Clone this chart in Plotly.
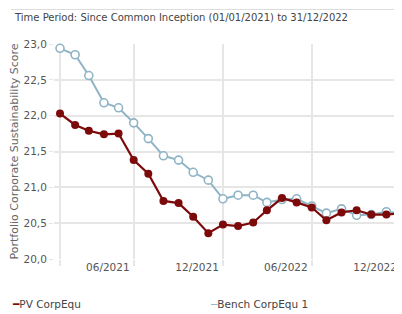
import plotly.graph_objects as go
import pandas as pd

# ---- data ----
dates = pd.date_range("2021-01-01", "2022-12-01", freq="MS")
pv_corpequ = [22.03, 21.87, 21.79, 21.74, 21.75, 21.38, 21.19, 20.81, 20.78, 20.59, 20.36, 20.48,
              20.46, 20.51, 20.68, 20.85, 20.79, 20.72, 20.54, 20.65, 20.68, 20.62, 20.62, 20.64]
bench_corpequ = [22.94, 22.85, 22.56, 22.18, 22.11, 21.90, 21.68, 21.44, 21.38, 21.21, 21.10, 20.84,
                 20.89, 20.89, 20.79, 20.83, 20.84, 20.74, 20.64, 20.70, 20.61, 20.62, 20.66, 20.64]
series_names = ["PV CorpEqu", "Bench CorpEqu 1"]
grid_dates = ["2021-01-01", "2021-06-01", "2021-12-01", "2022-06-01"]
label_dates = ["2021-06-01", "2021-12-01", "2022-06-01", "2022-12-01"]
tick_labels = ["06/2021", "12/2021", "06/2022", "12/2022"]
y_ticks = [20.0, 20.5, 21.0, 21.5, 22.0, 22.5, 23.0]

RED = "#7d0a0a"
BLUE = "#8fb4c6"
GRID = "#e6e6e6"
FONT = "DejaVu Sans"

# the page body has an 8px margin, so the figure is drawn 8px smaller
OFF = 8
FW, FH = 402 - OFF, 314 - OFF
L, T, W, H = 54 - OFF, 44 - OFF, 348, 215  # plot area in figure pixels


def px(x):  # page x pixel -> paper coord
    return (x - OFF - L) / W


def py(y):  # page y pixel -> paper coord
    return (T + H - (y - OFF)) / H


# label centres sit to the left of their gridline
label_pos = [pd.Timestamp(d) - pd.Timedelta(days=53) for d in label_dates]

fig = go.Figure()
fig.add_trace(go.Scatter(x=dates, y=bench_corpequ, name=series_names[1], mode="lines+markers",
                         line=dict(color=BLUE, width=2),
                         marker=dict(symbol="circle", size=8, color="white",
                                     line=dict(color=BLUE, width=1.6)),
                         cliponaxis=False))
fig.add_trace(go.Scatter(x=dates, y=pv_corpequ, name=series_names[0], mode="lines+markers",
                         line=dict(color=RED, width=2.2),
                         marker=dict(symbol="circle", size=8, color=RED),
                         cliponaxis=False))

fig.update_layout(
    width=FW, height=FH,
    margin=dict(l=L, r=FW - L - W, t=T, b=FH - T - H),
    paper_bgcolor="white", plot_bgcolor="white",
    showlegend=False,
    separators=",.",
    font=dict(family=FONT, size=10, color="#555555"),
    xaxis=dict(
        type="date", automargin=False,
        range=["2020-12-19 16:00", "2022-12-03"],
        tickmode="array", tickvals=label_pos, ticktext=tick_labels,
        showgrid=False, ticks="", zeroline=False, showline=False,
        tickfont=dict(size=10.5, color="#555555"),
        minor=dict(tickmode="array", tickvals=grid_dates, showgrid=True,
                   gridcolor=GRID, gridwidth=1.5, ticks="outside", ticklen=6,
                   tickcolor=GRID, tickwidth=1.5),
    ),
    yaxis=dict(
        automargin=False,
        range=[20, 23], tickmode="array", tickvals=y_ticks, tickformat=".1f",
        showgrid=True, gridcolor=GRID, gridwidth=1.5, zeroline=False, showline=False,
        ticks="outside", ticklen=4, tickcolor=GRID,
        tickfont=dict(size=10.5, color="#555555"),
        title=dict(text="Portfolio Corporate Sustainability Score",
                   font=dict(size=11, color="#666666"), standoff=2),
    ),
)

# header text
fig.add_annotation(text="Time Period: Since Common Inception (01/01/2021) to 31/12/2022",
                   xref="paper", yref="paper", x=px(12), y=py(18),
                   xanchor="left", yanchor="middle", showarrow=False,
                   font=dict(size=10, color="#444444"))
fig.add_shape(type="line", xref="paper", yref="paper",
              x0=px(11), x1=px(394), y0=py(9.5), y1=py(9.5),
              line=dict(color="#dddddd", width=1))

# legend-like labels
fig.add_annotation(text=f"<span style='color:{RED}'><b>━</b></span>{series_names[0]}",
                   xref="paper", yref="paper", x=px(10), y=py(304),
                   xanchor="left", yanchor="middle", showarrow=False,
                   font=dict(size=10.5, color="#444444"))
fig.add_annotation(text=f"<span style='color:{BLUE}'>─</span>{series_names[1]}",
                   xref="paper", yref="paper", x=px(208), y=py(304),
                   xanchor="left", yanchor="middle", showarrow=False,
                   font=dict(size=10.5, color="#444444"))

fig.write_html("out.html")
